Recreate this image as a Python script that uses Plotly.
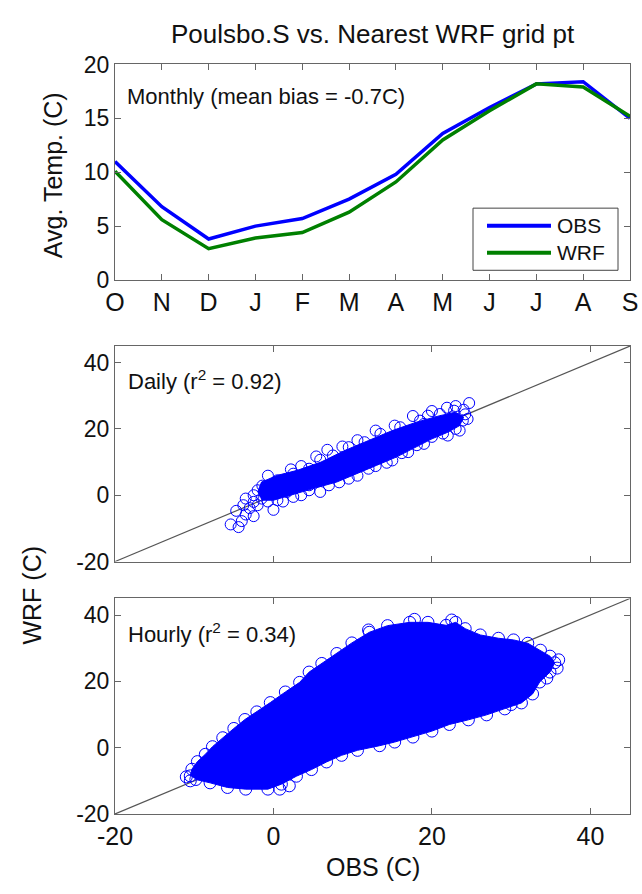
import plotly.graph_objects as go

# ---------------- data ----------------
months = ["O", "N", "D", "J", "F", "M", "A", "M", "J", "J", "A", "S"]
obs_monthly = [11.0, 6.8, 3.8, 5.0, 5.7, 7.5, 9.8, 13.6, 16.0, 18.2, 18.4, 15.0]
wrf_monthly = [10.1, 5.6, 2.9, 3.9, 4.4, 6.3, 9.1, 13.0, 15.7, 18.2, 17.9, 15.2]

# daily scatter: individual circles (OBS, WRF)
daily_obs = [-5.4, -4.4, -4.0, -3.5, -2.5, -3.0, -4.7, 0.0, -2.5, -0.7, 1.2, -2.5, -1.4, -0.7,
             1.7, 2.2, 3.5, 5.4, 6.8, 5.9, 8.7, 10.6, 12.9, 15.3, 17.6, 20.0, 21.9, 23.0, 24.7,
             3.5, 5.9, 8.3, 10.6, 12.9, 14.3, 16.2, 18.1, 20.0, 21.4, 23.0, 23.9, 24.2, 22.5,
             19.0, 14.0, 9.0, 4.0, 0.5, -1.5, 11.0, 16.5, 6.5,
             -3.5, -2.0, 0.5, 2.5, 4.5, 7.5, 9.5, 11.5, 13.5, 16.0, 18.5, 21.0, 19.5, 22.8, 24.0,
             24.5, 23.5, 22.0, 19.0, 17.0, 15.0, 12.0, 9.5, 7.0, 4.5, 2.5, 0.5, -3.8, -2.0,
             4.5, 7.5, 10.0, 15.0, 20.0, 12.0, 2.0, -1.0]
daily_wrf = [-8.8, -9.6, -7.8, -5.8, -6.3, -3.9, -4.7, -4.4, -2.0, -1.9, -1.9, 0.0, 2.9, 5.9,
             1.0, 7.8, 8.8, 11.7, 13.7, 10.7, 14.7, 16.6, 19.5, 21.0, 23.9, 25.4, 26.4, 26.9, 27.8,
             0.0, 1.0, 3.9, 5.9, 8.8, 9.8, 12.7, 15.1, 17.6, 18.6, 20.0, 22.5, 24.4, 23.5,
             21.5, 16.0, 10.0, 5.0, 3.0, -1.0, 13.5, 18.0, 7.0,
             -1.0, 1.5, 4.5, 6.5, 8.0, 12.0, 14.5, 16.0, 18.5, 20.5, 22.5, 24.5, 24.0, 25.5, 25.8,
             23.0, 19.5, 18.0, 15.5, 13.0, 10.5, 8.0, 5.0, 3.0, 1.5, -0.5, -1.5, -3.0, -3.0,
             3.0, 5.5, 8.0, 14.0, 20.0, 13.0, 3.0, 0.5]
# daily dense core outline (OBS, WRF)
daily_core_obs = [-2.0, -1.5, 0.5, 3.0, 6.0, 9.0, 12.0, 15.0, 18.0, 21.0, 23.0, 24.0,
                  23.5, 22.0, 20.0, 18.0, 15.5, 13.0, 10.5, 8.0, 5.0, 2.0, 0.0, -1.5]
daily_core_wrf = [1.0, 4.0, 6.0, 7.5, 10.0, 13.5, 16.5, 19.5, 22.0, 24.0, 25.0, 23.5,
                  21.0, 19.0, 17.0, 14.5, 11.5, 9.0, 6.5, 4.0, 2.0, 0.0, -1.5, -1.5]

# hourly scatter: edge of the cloud (OBS, WRF)
hourly_edge_obs = [-10.5, -10.3, -9.6, -8.6, -7.7, -6.4, -5.0, -3.6, -2.1, -0.4, 1.5, 3.3, 4.5,
                   6.1, 8.0, 9.9, 12.1, 14.4, 17.2, 19.5, 21.8, 23.0, 24.2, 26.1, 28.4, 30.3,
                   32.1, 33.7, 34.9, 35.5, 34.9, 33.6, 32.7, 31.3, 29.2, 26.9, 24.6, 22.2, 20.0,
                   17.6, 15.3, 13.4, 10.6, 8.6, 6.7, 4.8, 2.9, 1.0, -0.7, -3.5, -5.8, -8.0, -9.8]
hourly_edge_wrf = [-8.5, -6.5, -4.2, -2.0, 0.3, 3.0, 5.8, 8.5, 10.8, 13.6, 16.8, 19.7, 22.8,
                   25.4, 28.4, 31.6, 34.8, 36.8, 37.8, 37.8, 36.9, 37.8, 35.9, 34.0, 33.0, 32.5,
                   31.5, 29.4, 27.6, 25.6, 22.8, 19.8, 16.2, 13.5, 11.7, 9.9, 8.4, 7.0, 5.0,
                   3.2, 1.7, 0.6, -0.8, -2.3, -4.3, -6.6, -8.6, -11.0, -12.5, -12.5, -12.0, -10.6, -9.6]
hourly_extra_obs = [25.9, 35.8, 36.0, 22.5, 17.8, -11.0, -10.5, 0.8, 2.0, 34.5, 30.0, 12.0]
hourly_extra_wrf = [26.0, 24.0, 26.5, 38.5, 38.7, -8.8, -10.0, -12.5, -11.5, 21.0, 13.0, 35.5]

one_to_one = [-20, 45]
scatter_ticks = [-20, 0, 20, 40]
scatter_ticktext = ["-20", "0", "20", "40"]

# ---------------- styling ----------------
FONT = "Liberation Sans, Arial, Helvetica, sans-serif"
BLUE = "#0000ff"
GREEN = "#008000"
AXC = "#666666"

fig = go.Figure()

# top panel
fig.add_trace(go.Scatter(x=list(range(12)), y=obs_monthly, mode="lines",
                         line=dict(color=BLUE, width=3.5), xaxis="x", yaxis="y"))
fig.add_trace(go.Scatter(x=list(range(12)), y=wrf_monthly, mode="lines",
                         line=dict(color=GREEN, width=3.5), xaxis="x", yaxis="y"))

# middle panel (daily)
fig.add_trace(go.Scatter(x=one_to_one, y=one_to_one, mode="lines",
                         line=dict(color="#555555", width=1.2), xaxis="x2", yaxis="y2"))
fig.add_trace(go.Scatter(x=daily_core_obs, y=daily_core_wrf, mode="lines", fill="toself",
                         fillcolor=BLUE, line=dict(color=BLUE, width=1), xaxis="x2", yaxis="y2"))
fig.add_trace(go.Scatter(x=daily_obs, y=daily_wrf, mode="markers",
                         marker=dict(symbol="circle-open", size=11, color=BLUE,
                                     line=dict(width=1, color=BLUE)),
                         xaxis="x2", yaxis="y2"))

# bottom panel (hourly)
fig.add_trace(go.Scatter(x=one_to_one, y=one_to_one, mode="lines",
                         line=dict(color="#555555", width=1.2), xaxis="x3", yaxis="y3"))
fig.add_trace(go.Scatter(x=hourly_edge_obs, y=hourly_edge_wrf, mode="lines", fill="toself",
                         fillcolor=BLUE, line=dict(color=BLUE, width=1), xaxis="x3", yaxis="y3"))
fig.add_trace(go.Scatter(x=hourly_edge_obs + hourly_extra_obs, y=hourly_edge_wrf + hourly_extra_wrf,
                         mode="markers",
                         marker=dict(symbol="circle-open", size=12, color=BLUE,
                                     line=dict(width=1, color=BLUE)),
                         xaxis="x3", yaxis="y3"))

H = 894.0
def dom(top_px, bot_px):
    return [1 - bot_px / H, 1 - top_px / H]

common = dict(showline=True, linecolor=AXC, linewidth=1, mirror="ticks", ticks="inside",
              ticklen=6, tickcolor=AXC, showgrid=False, zeroline=False,
              tickfont=dict(family=FONT, size=23, color="#111111"))

fig.update_layout(
    width=642, height=894,
    margin=dict(l=115, r=12, t=0, b=0),
    paper_bgcolor="white", plot_bgcolor="white",
    showlegend=False,
    font=dict(family=FONT, color="#111111"),
    xaxis=dict(common, domain=[0, 1], range=[0, 11], tickvals=list(range(12)), ticktext=months,
               anchor="y", tickfont=dict(family=FONT, size=25, color="#111111")),
    yaxis=dict(common, domain=dom(53, 275), range=[0, 20], tickvals=[0, 5, 10, 15, 20], anchor="x"),
    xaxis2=dict(common, domain=[0, 1], range=[-20, 45], tickvals=scatter_ticks,
                showticklabels=False, anchor="y2"),
    yaxis2=dict(common, domain=dom(343, 565), range=[-20, 45], tickvals=scatter_ticks,
                ticktext=scatter_ticktext, anchor="x2"),
    xaxis3=dict(common, domain=[0, 1], range=[-20, 45], tickvals=scatter_ticks,
                ticktext=scatter_ticktext, anchor="y3",
                tickfont=dict(family=FONT, size=25, color="#111111")),
    yaxis3=dict(common, domain=dom(603, 825), range=[-20, 45], tickvals=scatter_ticks,
                ticktext=scatter_ticktext, anchor="x3"),
)

def py(px):
    return 1 - px / H

def pxx(px):
    return (px - 115) / 515.0

ann = [
    dict(text="Poulsbo.S vs. Nearest WRF grid pt", x=0.5, y=py(22), size=26),
    dict(text="Monthly (mean bias = -0.7C)", x=pxx(125), y=py(86), size=22, xanchor="left"),
    dict(text="Daily (r<sup>2</sup> = 0.92)", x=pxx(126), y=py(378), size=22, xanchor="left"),
    dict(text="Hourly (r<sup>2</sup> = 0.34)", x=pxx(126), y=py(639), size=22, xanchor="left"),
    dict(text="Avg. Temp. (C)", x=pxx(53), y=py(167), size=25, angle=-90),
    dict(text="WRF (C)", x=pxx(32), y=py(600), size=25, angle=-90),
    dict(text="OBS (C)", x=0.5, y=py(880), size=25),
    dict(text="OBS", x=pxx(555), y=py(219), size=21, xanchor="left"),
    dict(text="WRF", x=pxx(555), y=py(247), size=21, xanchor="left"),
]
for a in ann:
    fig.add_annotation(text=a["text"], x=a["x"], y=a["y"], xref="paper", yref="paper",
                       xanchor=a.get("xanchor", "center"), yanchor="middle",
                       textangle=a.get("angle", 0), showarrow=False,
                       font=dict(family=FONT, size=a["size"], color="#111111"))

# legend box (manual)
fig.add_shape(type="rect", xref="paper", yref="paper", x0=pxx(473), x1=pxx(618),
              y0=py(265), y1=py(201), line=dict(color="#444444", width=1), fillcolor="white")
fig.add_shape(type="line", xref="paper", yref="paper", x0=pxx(487), x1=pxx(551),
              y0=py(219), y1=py(219), line=dict(color=BLUE, width=4))
fig.add_shape(type="line", xref="paper", yref="paper", x0=pxx(487), x1=pxx(551),
              y0=py(247), y1=py(247), line=dict(color=GREEN, width=4))

fig.write_html("out.html")
